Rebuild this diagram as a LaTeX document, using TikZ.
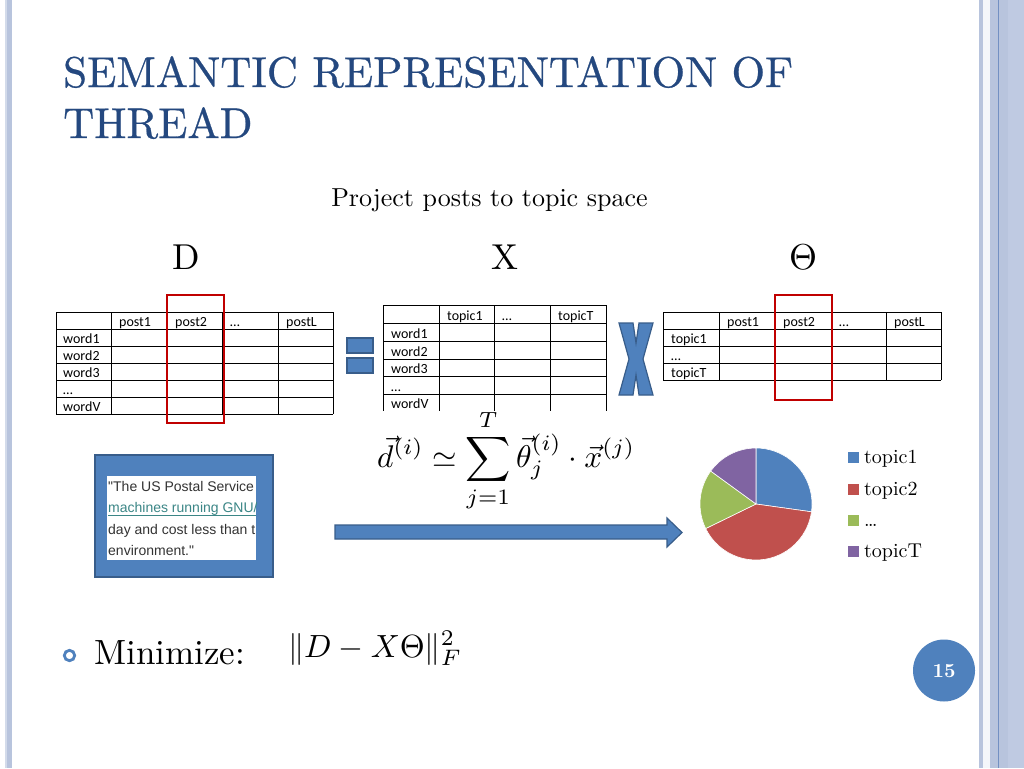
\documentclass[tikz,border=0pt]{standalone}
\usepackage{fontspec}
\usepackage{amsmath}
\usepackage{graphicx}
\setmainfont{lmroman10-regular.otf}[BoldFont=lmroman10-bold.otf,ItalicFont=lmroman10-italic.otf]
\newfontfamily\titlefont{lmroman10-regular.otf}[FakeBold=0.6]
\newfontfamily\pagefont{lmroman10-bold.otf}
\newfontfamily\calfont{Carlito}
\newfontfamily\arialfont{Liberation Sans}
\definecolor{sblue}{HTML}{4F81BD}
\definecolor{sbord}{HTML}{385D8A}
\definecolor{redbox}{HTML}{C00000}
\definecolor{titlec}{HTML}{24487F}
\definecolor{pblue}{HTML}{4F81BD}
\definecolor{pred}{HTML}{C0504D}
\definecolor{pgreen}{HTML}{9BBB59}
\definecolor{ppurple}{HTML}{8064A2}
\definecolor{stripeA}{HTML}{B8C4DD}
\definecolor{stripeB}{HTML}{D3DBEA}
\definecolor{stripeC}{HTML}{BFCAE2}
\definecolor{stripeLine}{HTML}{7390C2}
\definecolor{linkc}{HTML}{3B8686}
\definecolor{quotec}{HTML}{333333}
\tikzset{
  tline/.style={draw=black,line width=0.9pt},
  celltxt/.style={anchor=base west,inner sep=0pt,font=\calfont\fontsize{14}{16}\selectfont},
  shapefill/.style={fill=sblue,draw=sbord,line width=1.2pt},
  redframe/.style={draw=redbox,line width=2.6pt},
  legtxt/.style={anchor=base west,inner sep=0pt,font=\fontsize{20}{22}\selectfont},
  quotetxt/.style={anchor=base west,inner sep=0pt,font=\arialfont\fontsize{14}{16}\selectfont,text=quotec},
}
\begin{document}
\begin{tikzpicture}[x=1pt,y=-1pt]
\useasboundingbox (0,0) rectangle (1024,768);
\fill[white] (0,0) rectangle (1024,768);
% border stripes
\fill[stripeB] (5,0) rectangle (7,768);
\fill[stripeA] (7,0) rectangle (12,768);
\fill[stripeA] (979,0) rectangle (983,768);
\fill[white!85!stripeA] (983,0) rectangle (990,768);
\fill[stripeA] (990,0) rectangle (1008,768);
\fill[stripeC] (1008,0) rectangle (1024,768);
\fill[stripeLine] (997.5,0) rectangle (999,768);
% title
\node[anchor=base west,inner sep=0pt,text=titlec,font=\titlefont\fontsize{43}{50}\selectfont] (t1) at (63,87) {SEMANTIC REPRESENTATION OF};
\node[anchor=base west,inner sep=0pt,text=titlec,font=\titlefont\fontsize{43}{50}\selectfont] (t2) at (63,138) {THREAD};
\node[anchor=base,inner sep=0pt,font=\fontsize{26}{30}\selectfont] (sub) at (489.5,206) {Project posts to topic space};
% matrix labels
\node[anchor=base,inner sep=0pt,font=\fontsize{36}{40}\selectfont] (lD) at (186,269) {D};
\node[anchor=base,inner sep=0pt,font=\fontsize{36}{40}\selectfont] (lX) at (505,269) {X};
\node[anchor=base,inner sep=0pt] (lT) at (803,269) {\scalebox{3.6}{$\Theta$}};
% Table D
\foreach \x in {56,111,167,222,278,333} \draw[tline] (\x,312) -- (\x,414);
\foreach \y in {312,329,346,363,380,397,414} \draw[tline] (56,\y) -- (333,\y);
\node[celltxt] (d01) at (119,326) {post1};
\node[celltxt] (d02) at (175,326) {post2};
\node[celltxt] (d03) at (230,326) {…};
\node[celltxt] (d04) at (286,326) {postL};
\node[celltxt] (d10) at (63,343) {word1};
\node[celltxt] (d20) at (63,360) {word2};
\node[celltxt] (d30) at (63,377) {word3};
\node[celltxt] (d40) at (63,394) {…};
\node[celltxt] (d50) at (63,411) {wordV};
\draw[redframe] (167,295) rectangle (224,423);
% equal sign
\draw[shapefill] (347,338) rectangle (373,353);
\draw[shapefill] (347,358) rectangle (373,373);
% Table X
\foreach \x in {383,439,494,550,606} \draw[tline] (\x,305) -- (\x,411);
\foreach \y in {305,323,341,359,376,394} \draw[tline] (383,\y) -- (606,\y);
\node[celltxt] (x01) at (447,320) {topic1};
\node[celltxt] (x02) at (502,320) {…};
\node[celltxt] (x03) at (558,320) {topicT};
\node[celltxt] (x10) at (391,338) {word1};
\node[celltxt] (x20) at (391,356) {word2};
\node[celltxt] (x30) at (391,373) {word3};
\node[celltxt] (x40) at (391,391) {…};
\node[celltxt] (x50) at (391,408) {wordV};
% multiply sign
\draw[shapefill,line join=miter] (619,323) -- (633,323) -- (636,343) -- (639,323) -- (653,323) -- (643,359) -- (653,395) -- (639,395) -- (636,375) -- (633,395) -- (619,395) -- (629,359) -- cycle;
% Table Theta
\foreach \x in {663,719,775,831,886,941} \draw[tline] (\x,312) -- (\x,380);
\foreach \y in {312,329,346,363,380} \draw[tline] (663,\y) -- (941,\y);
\node[celltxt] (h01) at (727,326) {post1};
\node[celltxt] (h02) at (783,326) {post2};
\node[celltxt] (h03) at (839,326) {…};
\node[celltxt] (h04) at (894,326) {postL};
\node[celltxt] (h10) at (671,343) {topic1};
\node[celltxt] (h20) at (671,360) {…};
\node[celltxt] (h30) at (671,377) {topicT};
\draw[redframe] (775,295) rectangle (832,400);
% formula
\node[anchor=base west,inner sep=0pt] (eq) at (377,467) {\resizebox{258pt}{!}{$\displaystyle \vec{d}^{(i)} \simeq \sum_{j=1}^{T} \vec{\theta}_j^{(i)} \cdot \vec{x}^{(j)}$}};
% quote box
\draw[shapefill,line width=1.5pt] (95,455) rectangle (273,577);
\fill[white] (107,476) rectangle (256,560);
\begin{scope}
\clip (107,476) rectangle (256,560);
\node[quotetxt] (q1) at (108,491) {"The US Postal Service};
\node[quotetxt,text=linkc] (q2) at (108,512) {machines running GNU/};
\draw[linkc,line width=0.8pt] (108,515) -- (256,515);
\node[quotetxt] (q3) at (108,534) {day and cost less than t};
\node[quotetxt] (q4) at (108,555) {environment."};
\end{scope}
% arrow
\draw[shapefill,line join=miter] (335,525) -- (667,525) -- (667,518) -- (682,532.5) -- (667,547) -- (667,539) -- (335,539) -- cycle;
% pie
\begin{scope}[shift={(756,504)},yscale=-1]
\filldraw[fill=pblue,draw=white,line width=0.6pt] (0,0) -- (-8:56) arc[start angle=-8,end angle=90,radius=56] -- cycle;
\filldraw[fill=pred,draw=white,line width=0.6pt] (0,0) -- (206:56) arc[start angle=206,end angle=352,radius=56] -- cycle;
\filldraw[fill=pgreen,draw=white,line width=0.6pt] (0,0) -- (144:56) arc[start angle=144,end angle=206,radius=56] -- cycle;
\filldraw[fill=ppurple,draw=white,line width=0.6pt] (0,0) -- (90:56) arc[start angle=90,end angle=144,radius=56] -- cycle;
\end{scope}
% legend
\fill[pblue] (848,452) rectangle (859,463);
\fill[pred] (848,484) rectangle (859,495);
\fill[pgreen] (848,515) rectangle (859,526);
\fill[ppurple] (848,546) rectangle (859,557);
\node[legtxt] (g1) at (864,463) {topic1};
\node[legtxt] (g2) at (864,495) {topic2};
\node[legtxt] (g3) at (864,526) {…};
\node[legtxt] (g4) at (864,557) {topicT};
% bullet
\draw[sblue,line width=2.8pt] (69.5,655.5) circle[radius=5.2];
\node[anchor=base west,inner sep=0pt,font=\fontsize{35}{40}\selectfont] (mini) at (94,664) {Minimize:};
\node[anchor=base west,inner sep=0pt] (norm) at (288,657) {\resizebox{174pt}{!}{$\|D - X\Theta\|_F^2$}};
% page number
\fill[sblue] (944,670.5) circle[radius=31];
\node[text=white,font=\pagefont\fontsize{20}{22}\selectfont,inner sep=0pt] (pg) at (944,671) {15};
\end{tikzpicture}
\end{document}
